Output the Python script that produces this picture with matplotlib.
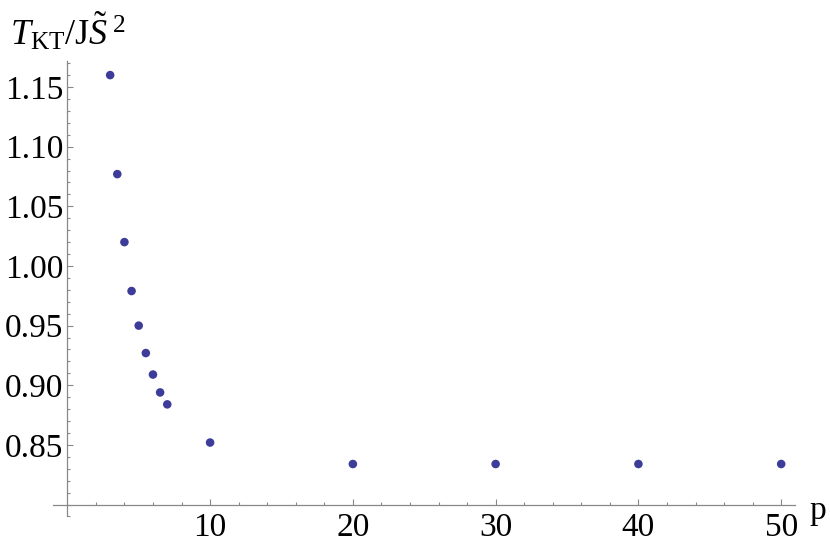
import matplotlib.pyplot as plt
import numpy as np

# data
p_values = [3, 3.5, 4, 4.5, 5, 5.5, 6, 6.5, 7, 10, 20, 30, 40, 50]
t_kt = [1.160, 1.077, 1.020, 0.979, 0.950, 0.927, 0.909, 0.894, 0.884,
        0.852, 0.834, 0.834, 0.834, 0.834]
x_major = [10, 20, 30, 40, 50]
y_major = [0.85, 0.90, 0.95, 1.00, 1.05, 1.10, 1.15]

plt.rcParams['font.family'] = ['Liberation Serif', 'DejaVu Serif']
plt.rcParams['mathtext.fontset'] = 'custom'
plt.rcParams['mathtext.rm'] = 'Liberation Serif'
plt.rcParams['mathtext.it'] = 'Liberation Serif:italic'

fig = plt.figure(figsize=(8.3, 5.49), dpi=100)
ax = fig.add_axes([0.0639, 0.0592, 0.9031, 0.8366])

dot_color = '#3d3d99'
ax.scatter(p_values, t_kt, s=38, color=dot_color, edgecolors='none', zorder=3)

ax.set_xlim(-1, 51.5)
ax.set_ylim(0.79, 1.175)

# Mathematica style axes crossing at (0, 0.8)
for side in ['top', 'right']:
    ax.spines[side].set_visible(False)
ax.spines['left'].set_position(('data', 0))
ax.spines['bottom'].set_position(('data', 0.8))
ax.spines['left'].set_bounds(0.79, 1.172)
ax.spines['bottom'].set_bounds(-1, 51)
for side in ['left', 'bottom']:
    ax.spines[side].set_color('#888888')
    ax.spines[side].set_linewidth(0.9)

ax.set_xticks(x_major)
ax.set_xticks([v for v in np.arange(2, 51, 2) if v % 10 != 0], minor=True)
ax.set_yticks(y_major)
ax.set_yticklabels([f'{v:.2f}' for v in y_major])
ax.set_yticks([round(v, 2) for v in np.arange(0.79, 1.171, 0.01)
               if round(v * 100) % 5 != 0 or round(v, 2) == 0.80], minor=True)

ax.tick_params(which='both', direction='in', color='#888888', width=0.8,
               labelsize=24)
ax.tick_params(which='major', length=4.5)
ax.tick_params(which='minor', length=2.5)
ax.tick_params(axis='x', pad=6)
ax.tick_params(axis='y', pad=3)

fig.text(0.012, 0.918, r'$T_{\mathrm{KT}}/\mathrm{J}\tilde{S}^{\;2}$',
         fontsize=26, ha='left', va='baseline')
fig.text(0.975, 0.055, 'p', fontsize=24, ha='left', va='baseline')

fig.savefig('out.png', dpi=100)
plt.close(fig)
